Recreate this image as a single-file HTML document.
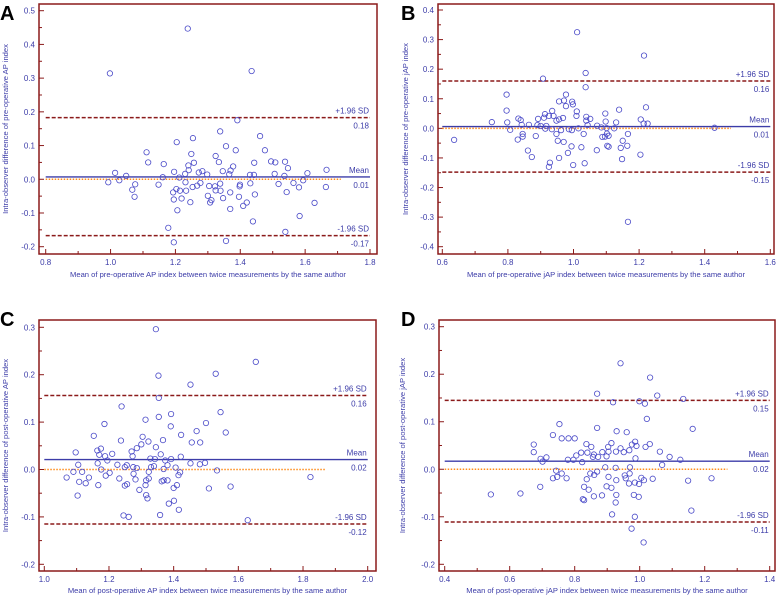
<!DOCTYPE html>
<html><head><meta charset="utf-8">
<style>
html,body{margin:0;padding:0;background:#fff;}
svg{display:block;font-family:"Liberation Sans",Arial,sans-serif;}
</style></head>
<body>
<svg id="fig" width="778" height="595" viewBox="0 0 778 595" xmlns="http://www.w3.org/2000/svg"></svg>
<script>
// Panel A data
const aMeans=[1.238,0.998,1.435,1.391,1.338,1.461,1.254,1.204,1.356,1.111,1.386,1.476,1.249,1.324,1.116,1.164,1.257,1.334,1.443,1.495,1.508,1.538,1.547,1.240,1.241,1.378,1.346,1.272,1.283,1.298,1.370,1.366,1.014,1.048,1.161,1.196,1.212,1.230,1.430,1.442,1.506,1.536,1.607,1.666,0.993,1.027,1.076,1.067,1.074,1.148,1.193,1.203,1.195,1.214,1.219,1.231,1.233,1.253,1.267,1.277,1.246,1.206,1.304,1.300,1.307,1.311,1.322,1.324,1.338,1.339,1.347,1.369,1.369,1.399,1.398,1.396,1.409,1.420,1.431,1.445,1.439,1.518,1.564,1.543,1.581,1.594,1.664,1.629,1.583,1.539,1.178,1.195,1.356];
const aDiffs=[0.447,0.314,0.321,0.175,0.142,0.128,0.122,0.110,0.098,0.080,0.086,0.086,0.075,0.069,0.050,0.045,0.049,0.051,0.049,0.053,0.050,0.052,0.033,0.041,0.027,0.038,0.024,0.020,0.024,0.014,0.026,0.015,0.019,0.010,0.006,0.022,0.005,0.016,0.013,0.013,0.016,0.010,0.018,0.028,-0.009,-0.003,-0.015,-0.031,-0.052,-0.016,-0.039,-0.029,-0.060,-0.034,-0.057,-0.009,-0.034,-0.023,-0.019,-0.011,-0.068,-0.092,-0.020,-0.049,-0.069,-0.062,-0.021,-0.033,-0.013,-0.034,-0.056,-0.039,-0.088,-0.016,-0.021,-0.052,-0.079,-0.069,-0.012,-0.045,-0.125,-0.014,-0.011,-0.038,-0.024,-0.003,-0.023,-0.070,-0.109,-0.156,-0.144,-0.187,-0.183];
const aStats=[0.007,0.183,-0.167]; const aStatLabels=["0.01","0.18","-0.17"];
// Panel B data
const bMeans=[1.011,1.215,1.037,0.907,1.037,0.796,0.977,1.221,1.139,0.796,0.956,0.971,0.996,0.998,0.977,0.913,0.935,0.925,0.939,0.956,0.948,0.968,0.910,0.892,1.010,1.009,1.039,1.039,1.051,1.097,1.098,1.130,1.205,1.214,1.226,0.751,0.798,0.832,0.839,0.864,0.842,0.890,0.900,0.917,0.914,0.934,0.986,0.995,1.015,1.043,1.072,1.085,1.101,1.124,1.430,0.807,0.636,0.830,0.845,0.845,0.885,0.948,0.962,0.952,0.970,1.031,1.102,1.107,1.096,1.088,1.166,1.150,1.103,1.107,0.994,1.024,1.144,1.164,1.071,0.983,0.861,0.873,0.956,1.148,1.204,0.928,0.925,0.999,1.034,1.166];
const bDiffs=[0.325,0.246,0.187,0.168,0.139,0.114,0.114,0.071,0.063,0.060,0.091,0.094,0.090,0.081,0.075,0.048,0.059,0.042,0.042,0.030,0.026,0.035,0.036,0.032,0.057,0.042,0.039,0.026,0.032,0.050,0.023,0.020,0.030,0.016,0.016,0.021,0.020,0.033,0.028,0.012,0.012,0.011,0.008,0.008,-0.001,-0.003,-0.003,-0.006,0.000,0.011,0.009,0.003,0.001,0.000,0.002,-0.005,-0.039,-0.038,-0.019,-0.028,-0.026,-0.019,-0.006,-0.042,-0.046,-0.019,-0.018,-0.025,-0.028,-0.029,-0.019,-0.042,-0.059,-0.062,-0.061,-0.064,-0.066,-0.059,-0.074,-0.083,-0.075,-0.097,-0.100,-0.104,-0.089,-0.116,-0.130,-0.124,-0.118,-0.316];
const bStats=[0.006,0.160,-0.148]; const bStatLabels=["0.01","0.16","-0.15"];
// Panel C data
const cMeans=[1.345,1.654,1.353,1.530,1.452,1.354,1.239,1.545,1.313,1.354,1.392,1.186,1.500,1.391,1.561,1.471,1.153,1.304,1.423,1.237,1.322,1.367,1.456,1.482,1.300,1.345,1.286,1.097,1.164,1.175,1.210,1.170,1.188,1.270,1.273,1.360,1.328,1.342,1.374,1.392,1.422,1.165,1.195,1.226,1.255,1.249,1.275,1.286,1.330,1.339,1.369,1.381,1.406,1.452,1.481,1.497,1.105,1.069,1.090,1.108,1.117,1.128,1.138,1.103,1.167,1.176,1.190,1.202,1.232,1.249,1.256,1.276,1.282,1.294,1.313,1.315,1.323,1.323,1.315,1.319,1.363,1.369,1.381,1.400,1.410,1.415,1.420,1.385,1.401,1.416,1.245,1.261,1.358,1.534,1.509,1.576,1.823,1.629];
const cDiffs=[0.296,0.227,0.198,0.202,0.179,0.151,0.133,0.121,0.105,0.111,0.117,0.096,0.098,0.091,0.078,0.081,0.071,0.069,0.073,0.061,0.059,0.062,0.057,0.057,0.053,0.047,0.045,0.036,0.040,0.044,0.033,0.031,0.028,0.038,0.028,0.032,0.023,0.022,0.019,0.022,0.027,0.013,0.019,0.010,0.009,0.005,0.005,0.003,0.005,0.007,0.001,0.009,0.004,0.013,0.011,0.014,0.010,-0.017,-0.005,-0.026,-0.005,-0.029,-0.017,-0.055,-0.033,0.000,-0.013,-0.007,-0.019,-0.034,-0.031,-0.009,-0.021,-0.043,-0.033,-0.023,-0.019,-0.005,-0.054,-0.061,-0.025,-0.023,-0.023,-0.039,-0.033,-0.012,-0.006,-0.072,-0.066,-0.085,-0.097,-0.100,-0.096,-0.002,-0.040,-0.036,-0.016,-0.107];
const cStats=[0.021,0.156,-0.115]; const cStatLabels=["0.02","0.16","-0.12"];
// Panel D data
const dMeans=[0.941,1.032,0.869,1.054,0.918,0.999,1.016,1.134,1.022,0.753,0.869,1.163,0.929,0.960,0.733,0.760,0.781,0.800,0.674,0.836,0.851,0.913,0.903,0.941,0.986,0.976,0.990,1.031,1.018,0.674,0.820,0.839,0.885,0.904,0.927,0.951,0.968,1.062,0.695,0.713,0.701,0.779,0.805,0.796,0.823,0.856,0.859,0.872,0.898,0.987,1.092,1.125,1.069,0.894,0.926,0.970,0.743,0.733,0.746,0.760,0.775,0.848,0.860,0.869,0.904,0.928,0.954,0.957,0.969,0.967,0.985,0.998,1.005,1.013,1.040,1.149,1.221,0.694,0.542,0.633,0.837,0.829,0.843,0.898,0.913,0.825,0.829,0.859,0.884,0.928,0.982,0.997,0.926,0.915,0.985,1.159,0.975,1.012];
const dDiffs=[0.223,0.193,0.159,0.155,0.141,0.143,0.138,0.148,0.106,0.095,0.087,0.085,0.080,0.078,0.072,0.065,0.065,0.065,0.052,0.053,0.047,0.055,0.047,0.044,0.058,0.052,0.049,0.053,0.047,0.036,0.035,0.035,0.036,0.037,0.037,0.036,0.040,0.037,0.022,0.025,0.016,0.020,0.029,0.020,0.015,0.026,0.031,0.026,0.027,0.023,0.026,0.020,0.009,0.004,0.003,0.004,-0.003,-0.019,-0.016,-0.009,-0.019,-0.009,-0.012,-0.005,-0.016,-0.023,-0.013,-0.019,-0.009,-0.030,-0.028,-0.031,-0.018,-0.023,-0.020,-0.024,-0.019,-0.037,-0.053,-0.051,-0.021,-0.037,-0.043,-0.036,-0.039,-0.063,-0.065,-0.057,-0.055,-0.054,-0.054,-0.058,-0.070,-0.095,-0.100,-0.087,-0.125,-0.154];
const dStats=[0.017,0.145,-0.111]; const dStatLabels=["0.02","0.15","-0.11"];

const panels=[
 {id:"a",letter:"A",lx:0,ly:20,fx:39,fy:4,fw:338,fh:250,xmin:0.8,xmax:1.8,xstep:0.2,px0:45.7,px1:370,ymin:-0.2,ymax:0.5,py0:246.7,py1:10.7,zeroEnd:1.71,
  xs:aMeans,ys:aDiffs,stats:aStats,labs:aStatLabels,dec:1,xt:"Mean of pre-operative AP index between twice measurements by the same author",yt:"Intra-observer difference of pre-operative AP index",tickY:265,titleY:277,yTitleX:8},
 {id:"b",letter:"B",lx:401,ly:20,fx:438,fy:4,fw:336,fh:250,xmin:0.6,xmax:1.6,xstep:0.2,px0:442.3,px1:770.3,ymin:-0.4,ymax:0.4,py0:246.7,py1:10,zeroEnd:1.48,
  xs:bMeans,ys:bDiffs,stats:bStats,labs:bStatLabels,dec:1,xt:"Mean of pre-operative jAP index between twice measurements by the same author",yt:"Intra-observer difference of pre-operative jAP index",tickY:265,titleY:277,yTitleX:408},
 {id:"c",letter:"C",lx:0,ly:326,fx:39,fy:320,fw:337,fh:251,xmin:1.0,xmax:2.0,xstep:0.2,px0:44.3,px1:367.7,ymin:-0.2,ymax:0.3,py0:564.3,py1:327.3,zeroEnd:1.87,
  xs:cMeans,ys:cDiffs,stats:cStats,labs:cStatLabels,dec:1,xt:"Mean of post-operative AP index between twice measurements by the same author",yt:"Intra-observer difference of post-operative AP index",tickY:582,titleY:593,yTitleX:8},
 {id:"d",letter:"D",lx:401,ly:326,fx:439,fy:320,fw:336,fh:251,xmin:0.4,xmax:1.4,xstep:0.2,px0:444.7,px1:769.7,ymin:-0.2,ymax:0.3,py0:564.3,py1:326.7,zeroEnd:1.27,
  xs:dMeans,ys:dDiffs,stats:dStats,labs:dStatLabels,dec:1,xt:"Mean of post-operative jAP index between twice measurements by the same author",yt:"Intra-observer difference of post-operative jAP index",tickY:582,titleY:593,yTitleX:405}
];
const NS="http://www.w3.org/2000/svg";
const svg=document.getElementById("fig");
const BLUE="#3c3ca8", RED="#8b1a1a";
function mk(tag,attrs,parent){const e=document.createElementNS(NS,tag);for(const k in attrs)e.setAttribute(k,attrs[k]);(parent||svg).appendChild(e);return e;}
function txt(s,attrs,parent){const e=mk("text",attrs,parent);e.textContent=s;return e;}

panels.forEach(p=>{
  const g=mk("g",{});
  
  
  const X=v=>p.px0+(v-p.xmin)/(p.xmax-p.xmin)*(p.px1-p.px0);
  const Y=v=>p.py0+(v-p.ymin)/(p.ymax-p.ymin)*(p.py1-p.py0);
  const lt=txt(p.letter,{x:p.lx,y:p.ly,"font-size":20,"font-weight":"bold",fill:"#000"},g);
  
  
  const fr=mk("rect",{x:p.fx,y:p.fy,width:p.fw,height:p.fh,fill:"none",stroke:RED,"stroke-width":1.5},g);
  
  
  // y ticks
  const ny=Math.round((p.ymax-p.ymin)/0.1);
  for(let i=0;i<=ny;i++){
    const v=p.ymin+i*0.1, y=Y(v);
    mk("line",{x1:p.fx,x2:p.fx+5,y1:y,y2:y,stroke:RED,"stroke-width":1},g);
    if(i<ny){const ym=Y(v+0.05);mk("line",{x1:p.fx,x2:p.fx+3,y1:ym,y2:ym,stroke:RED,"stroke-width":1},g);}
    const t=txt(v.toFixed(1).replace("-0.0","0.0"),{x:p.fx-4,y:y+3,"font-size":8,"text-anchor":"end",fill:BLUE},g);
    
    
  }
  const nx=Math.round((p.xmax-p.xmin)/0.1);
  for(let i=0;i<=nx;i++){
    const v=p.xmin+i*0.1, x=X(v), bot=p.fy+p.fh;
    const major=i%2===0;
    mk("line",{x1:x,x2:x,y1:bot,y2:bot-(major?5:3),stroke:RED,"stroke-width":1},g);
    if(major){const t=txt(v.toFixed(1),{x:x,y:p.tickY,"font-size":8,"text-anchor":"middle",fill:BLUE},g);
      
      }
  }
  const xt=txt(p.xt,{x:p.fx+p.fw/2,y:p.titleY,"font-size":7.6,"text-anchor":"middle",fill:BLUE},g);
  
  
  const cy=p.fy+p.fh/2;
  const yt=txt(p.yt,{x:p.yTitleX,y:cy,"font-size":7.6,"text-anchor":"middle",fill:BLUE,transform:`rotate(-90 ${p.yTitleX} ${cy})`},g);
  
  
  // zero line
  const z=mk("line",{x1:X(p.xmin),x2:X(p.zeroEnd),y1:Y(0),y2:Y(0),stroke:"#ff8c1a","stroke-width":1.5,"stroke-dasharray":"1.5,1.5"},g);
  
  
  const xe=X(p.xmax), xs0=X(p.xmin);
  const names=["mean-line","upper-limit-line","lower-limit-line"];
  const tops=["Mean","+1.96 SD","-1.96 SD"];
  p.stats.forEach((s,k)=>{
    const y=Y(s);
    const l=mk("line",{x1:xs0,x2:xe,y1:y,y2:y,stroke:k===0?BLUE:RED,"stroke-width":k===0?1.4:1.5,"stroke-dasharray":k===0?"none":"4,2"},g);
    
    
    const a=txt(tops[k],{x:xe-1,y:y-4,"font-size":8,"text-anchor":"end",fill:BLUE},g);
    
    
    const b=txt(p.labs[k],{x:xe-1,y:y+11,"font-size":8,"text-anchor":"end",fill:BLUE},g);
    
    
  });
  p.xs.forEach((xv,i)=>{
    const c=mk("circle",{cx:X(xv),cy:Y(p.ys[i]),r:2.7,fill:"none",stroke:"#4a4ac8","stroke-width":0.8},g);
    
    
  });
});
</script>
</body></html>
